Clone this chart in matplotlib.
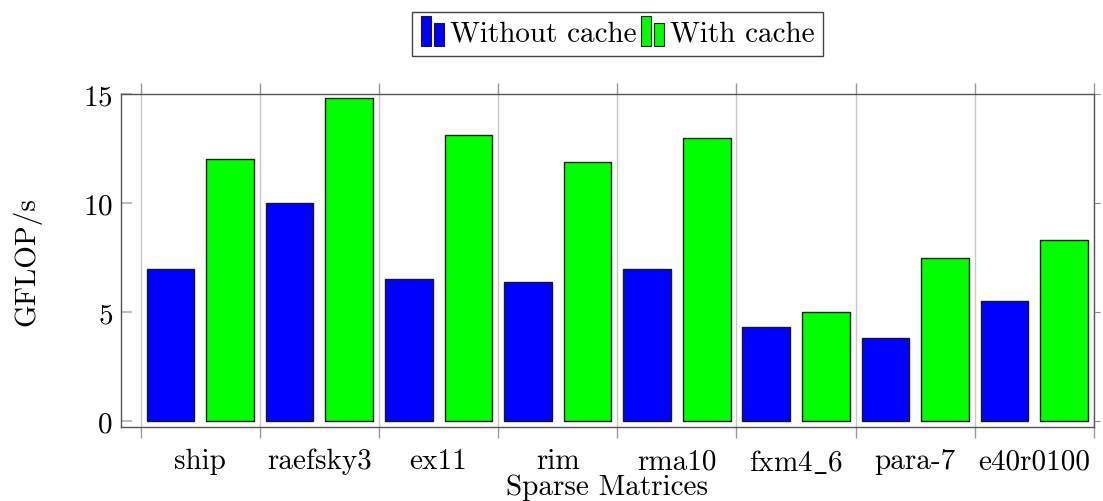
import numpy as np
import matplotlib
import matplotlib.pyplot as plt
from matplotlib.patches import Rectangle
from matplotlib.legend_handler import HandlerBase
from matplotlib.ticker import FixedLocator, NullFormatter

matplotlib.use("Agg")

plt.rcParams["font.family"] = "serif"
plt.rcParams["font.serif"] = ["cmr10", "DejaVu Serif"]
plt.rcParams["mathtext.fontset"] = "cm"
plt.rcParams["axes.formatter.use_mathtext"] = True

matrices = ["ship", "raefsky3", "ex11", "rim", "rma10", "fxm4$\\_$6", "para-7", "e40r0100"]
without_cache = [7.0, 10.0, 6.5, 6.4, 7.0, 4.3, 3.8, 5.5]
with_cache = [12.0, 14.8, 13.1, 11.9, 13.0, 5.0, 7.5, 8.3]
yticks = [0, 5, 10, 15]

blue = "#0000ff"
green = "#00ff00"
edge = "#1a1a1a"
fs = 21


class TwoBarHandler(HandlerBase):
    # pgfplots-style ybar legend image: two small bars side by side
    def create_artists(self, legend, orig_handle, xdescent, ydescent,
                       width, height, fontsize, trans):
        fc = orig_handle.get_facecolor()
        w = width * 0.42
        x0 = -xdescent
        y0 = -ydescent - height * 0.25
        r1 = Rectangle((x0, y0), w, height * 1.45, facecolor=fc,
                       edgecolor=edge, lw=0.8, transform=trans)
        r2 = Rectangle((x0 + width - w, y0), w, height * 1.1, facecolor=fc,
                       edgecolor=edge, lw=0.8, transform=trans)
        return [r1, r2]


fig = plt.figure(figsize=(11.03, 5.02), dpi=100)
ax = fig.add_axes([0.1097, 0.1474, 0.8821, 0.6634])

x = np.arange(len(matrices))
b1 = ax.bar(x - 0.25, without_cache, width=0.4, color=blue, edgecolor=edge,
            linewidth=1.0, zorder=3, label="Without cache")
b2 = ax.bar(x + 0.25, with_cache, width=0.4, color=green, edgecolor=edge,
            linewidth=1.0, zorder=3, label="With cache")

ax.set_xlim(-0.665, 7.5)
ax.set_ylim(-0.26, 15.0)

# labels at group centres, ticks/grid at group boundaries
ax.set_xticks(x)
ax.set_xticklabels(matrices, fontsize=fs)
ax.tick_params(axis="x", which="major", length=0, pad=15)
ax.xaxis.set_minor_locator(FixedLocator(np.arange(-0.5, len(matrices), 1.0)))
ax.xaxis.set_minor_formatter(NullFormatter())
ax.tick_params(axis="x", which="minor", direction="out", length=8,
               width=1.0, color="#999999", top=True, bottom=True)
ax.grid(axis="x", which="minor", color="#c8c8c8", linewidth=1.0, zorder=0)

ax.set_yticks(yticks)
ax.tick_params(axis="y", which="major", direction="in", length=8, width=1.5,
               color="#c0c0c0", labelsize=fs, pad=6)

for s in ax.spines.values():
    s.set_color("#555555")
    s.set_linewidth(1.0)

ax2 = ax.twinx()
ax2.set_ylim(ax.get_ylim())
ax2.set_yticks(yticks)
ax2.tick_params(axis="y", direction="out", length=4, color="#888888",
                labelright=False)
for s in ax2.spines.values():
    s.set_visible(False)

ax.set_ylabel("GFLOP/s", fontsize=fs, labelpad=30)
ax.set_xlabel("Sparse Matrices", fontsize=fs, labelpad=-2)

h1, h2 = b1.patches[0], b2.patches[0]
fig.legend(handles=[h1, h2], labels=["Without cache", "With cache"],
           loc="center", bbox_to_anchor=(0.56, 0.931),
           ncol=2, fontsize=fs, frameon=True, fancybox=False,
           edgecolor="#444444", framealpha=1, handlelength=0.8,
           handleheight=0.7, handletextpad=0.2, columnspacing=0.15,
           borderpad=0.3, borderaxespad=0,
           handler_map={Rectangle: TwoBarHandler()})

fig.savefig("out.png", dpi=100)
